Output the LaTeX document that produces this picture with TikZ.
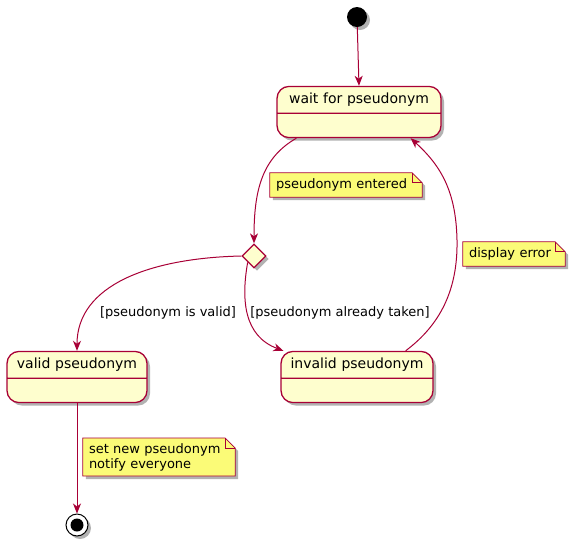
\documentclass[tikz,border=0pt]{standalone}
\usepackage{fontspec}
\setmainfont{DejaVu Sans}
\usetikzlibrary{arrows.meta,shapes.geometric,shapes.multipart,shadows,backgrounds}
\definecolor{umlborder}{HTML}{A80036}
\definecolor{umlfill}{HTML}{FEFECE}
\definecolor{notefill}{HTML}{FBFB77}

% empty body of a state
\newcommand{\statebody}{\nodepart{two}\rule{0pt}{11pt}}

% note body with folded corner, drawn behind the note text
\newcommand{\foldnote}[1]{%
  \begin{scope}[on background layer]
    \draw[notebody] (#1.north west) -- ([xshift=-10pt]#1.north east)
      -- ([yshift=-10pt]#1.north east) -- (#1.south east)
      -- (#1.south west) -- cycle;
    \draw[umlborder, line width=0.8pt] ([xshift=-10pt]#1.north east)
      |- ([yshift=-10pt]#1.north east);
  \end{scope}}

\begin{document}
\begin{tikzpicture}[
  x=1pt, y=-1pt,
  >={Stealth[length=10pt,width=8pt,inset=3pt]},
  shade/.style={drop shadow={shadow xshift=3pt, shadow yshift=-3pt,
                opacity=0.3, fill=black}},
  state/.style={rectangle split, rectangle split parts=2,
                draw=umlborder, fill=umlfill, line width=1.3pt,
                rounded corners=12pt, text width=#1, align=center,
                inner xsep=0pt, inner ysep=6pt,
                font=\fontsize{14}{16}\selectfont, shade},
  choice/.style={diamond, draw=umlborder, fill=umlfill, line width=1.3pt,
                 minimum size=24pt, inner sep=0pt, shade},
  note/.style={text width=#1, align=left, inner xsep=6pt, inner ysep=5pt,
               minimum height=24pt, font=\fontsize{13}{15}\selectfont},
  notebody/.style={draw=umlborder, fill=notefill, line width=0.8pt, shade},
  lbl/.style={font=\fontsize{13}{15}\selectfont, inner sep=1pt},
  trans/.style={->, draw=umlborder, line width=1pt},
]
\useasboundingbox (0,0) rectangle (570,547);

% states
\node[circle, fill=black, minimum size=20pt, inner sep=0pt, shade] (start) at (357,17) {};
\node[state=164pt] (wait) at (359,112) {wait for pseudonym\statebody};
\node[choice] (check) at (254,256) {};
\node[state=140pt] (valid) at (77,377) {valid pseudonym\statebody};
\node[state=152pt] (invalid) at (357,377) {invalid pseudonym\statebody};
\node[circle, draw=black, fill=white, line width=1pt, minimum size=22pt,
      inner sep=0pt, shade] (stop) at (77,525) {};
\node[circle, fill=black, minimum size=13pt, inner sep=0pt] (stopdot) at (stop) {};

% transitions
\draw[trans] (start) -- (wait.north);
\draw[trans] ([xshift=20pt]wait.south west)
  .. controls (262,158) and (254,190) .. (check.north);
\draw[trans] (check.west)
  .. controls (150,258) and (77,285) .. (valid.north);
\draw[trans] (check.south west)
  .. controls (241,300) and (244,336) .. ([xshift=3pt]invalid.north west);
\draw[trans] ([xshift=-28pt]invalid.north east)
  .. controls (440,325) and (458,290) .. (457,240)
  .. controls (456,190) and (440,165) .. ([xshift=-31pt]wait.south east);
\draw[trans] (valid.south) -- (stop.north);

% guards
\node[lbl] (gvalid) at (168,313) {[pseudonym is valid]};
\node[lbl] (gtaken) at (340,313) {[pseudonym already taken]};

% notes
\node[note=140pt] (nentered) at (346,185) {pseudonym entered};
\foldnote{nentered}
\node[note=90pt] (nerror) at (514,254) {display error};
\foldnote{nerror}
\node[note=140pt] (nset) at (159,457) {set new pseudonym\\notify everyone};
\foldnote{nset}
\end{tikzpicture}
\end{document}
